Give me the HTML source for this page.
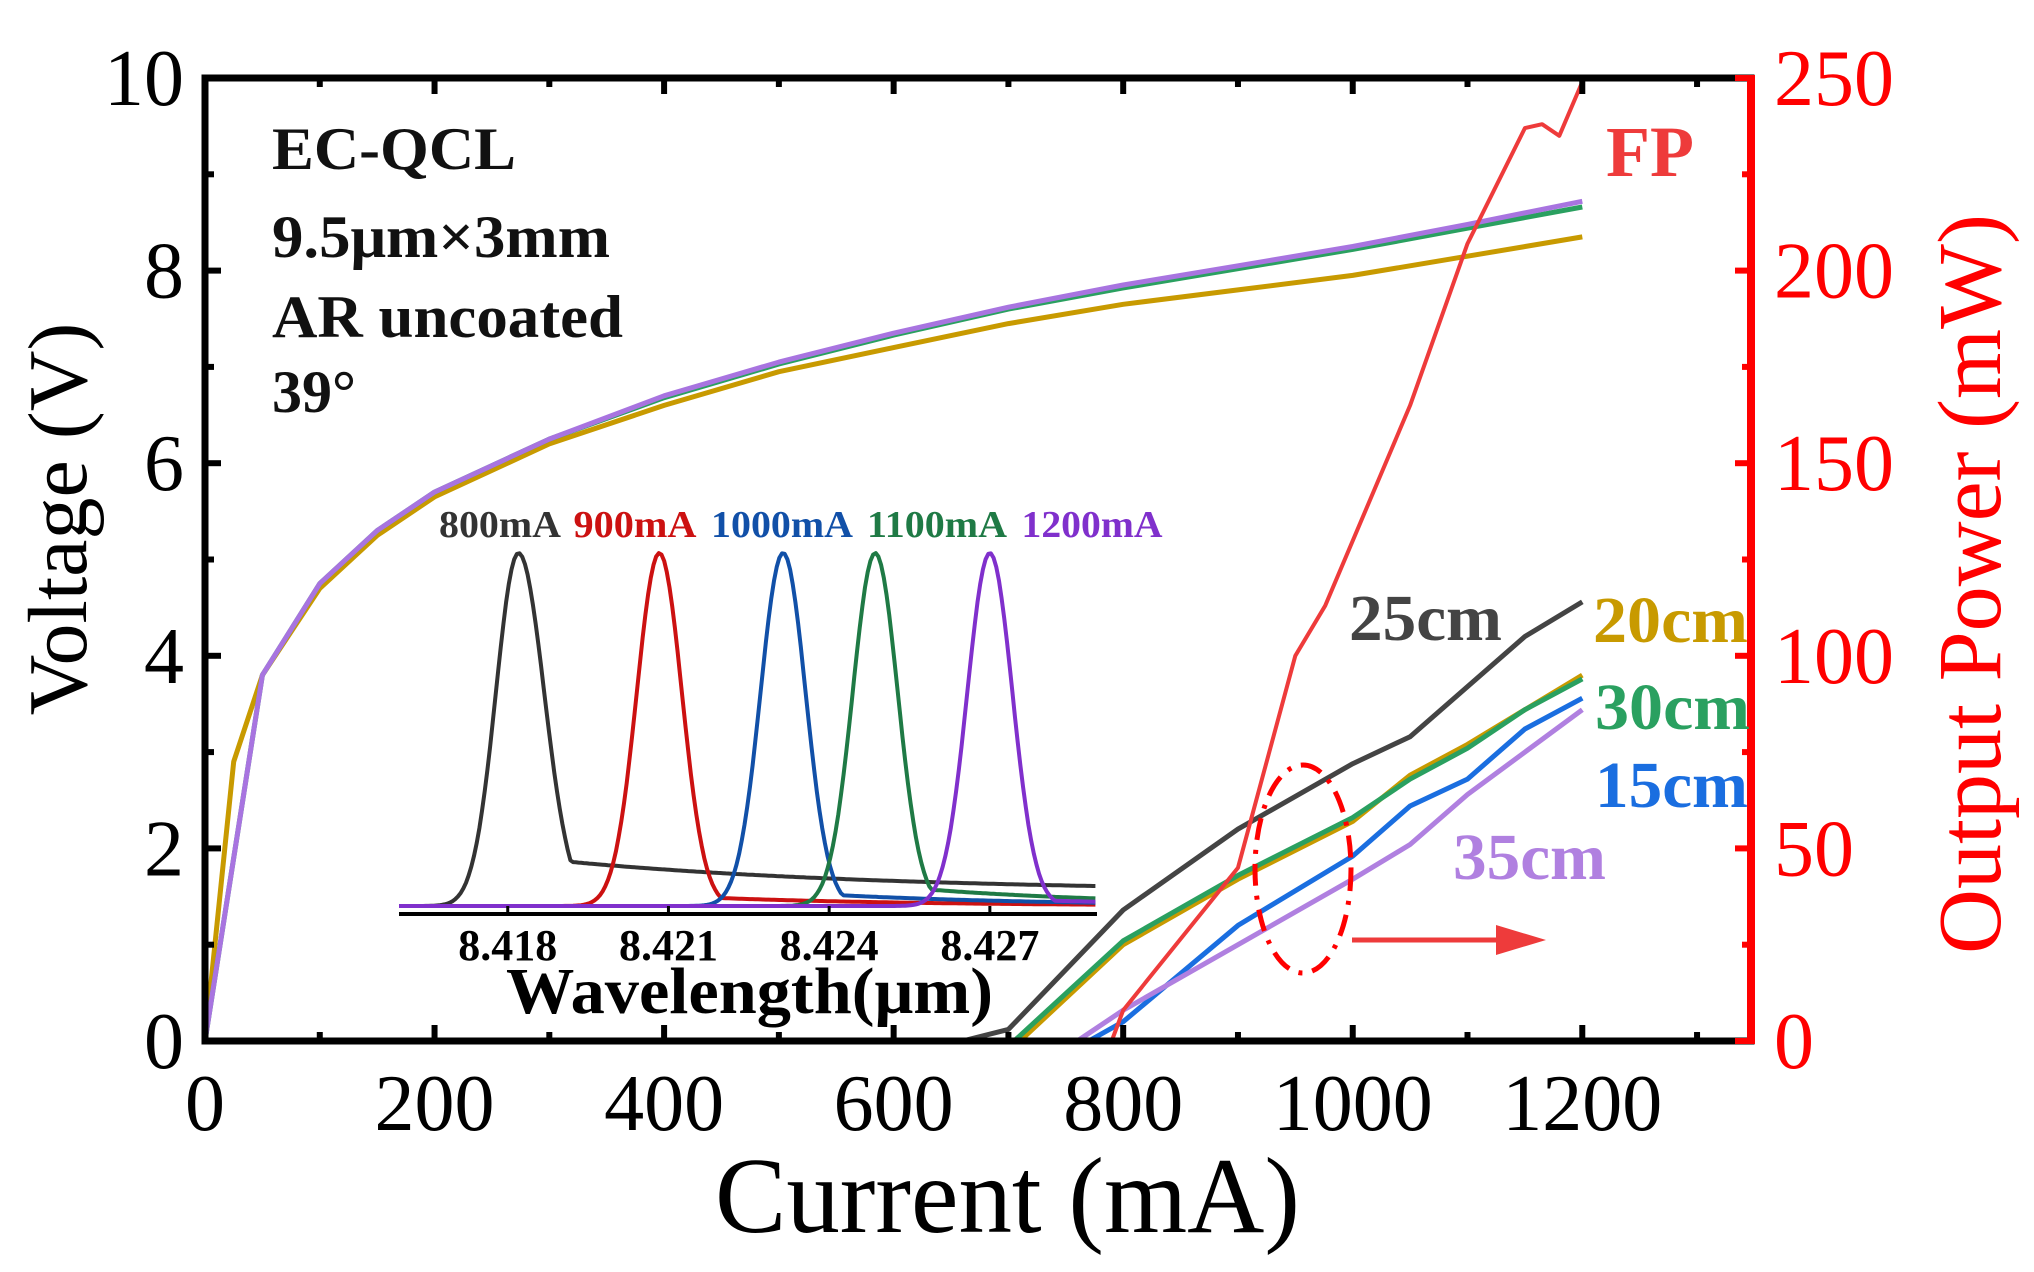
<!DOCTYPE html>
<html><head><meta charset="utf-8"><style>
body{margin:0;background:#fff;}
svg{display:block;font-family:"Liberation Serif",serif;}
</style></head><body>
<svg id="chart" width="2034" height="1272" viewBox="0 0 2034 1272">
<g id="marks"></g>
</svg>
<script>
// ---- main chart data ----
const vCurrent = [0,25,50,100,150,200,300,400,500,600,700,800,900,1000,1100,1200];
const vYellow  = [0,2.9,3.8,4.7,5.25,5.65,6.2,6.6,6.95,7.2,7.45,7.65,7.8,7.95,8.15,8.35];
const vPurple  = [0,1.9,3.8,4.75,5.3,5.7,6.25,6.7,7.05,7.35,7.62,7.85,8.05,8.25,8.48,8.72];
const vGreen   = [0,1.9,3.8,4.75,5.3,5.7,6.25,6.68,7.03,7.33,7.6,7.82,8.02,8.22,8.44,8.66];
const p25x=[660,700,800,900,1000,1050,1100,1150,1200]; const p25=[0,3,34,55,72,79,92,105,114];
const p20x=[710,800,900,1000,1050,1100,1150,1200];      const p20=[0,25,42,57,69,77,86,95];
const p30x=[705,800,900,1000,1050,1100,1150,1200];      const p30=[0,26,43,58,68,76,86,94];
const p15x=[770,800,900,1000,1050,1100,1150,1200];      const p15=[0,5,30,48,61,68,81,89];
const p35x=[760,800,900,1000,1050,1100,1150,1200];      const p35=[0,8,25,42,51,64,75,86];
const fpx=[0,790,800,900,950,976,1050,1100,1150,1165,1180,1200]; const fp=[0,0,8,45,100,113,165,207,237,238,235,249];
const xTicks=[0,200,400,600,800,1000,1200];
const yTicks=[0,2,4,6,8,10];
const y2Ticks=[0,50,100,150,200,250];
// ---- inset data ----
const peakCenters=[8.4182,8.42083,8.42314,8.42486,8.427];
const peakLabels=["800mA","900mA","1000mA","1100mA","1200mA"];
const peakBase=[0.10,0.03,0.04,0.06,0.02];
const insetTicks=[8.418,8.421,8.424,8.427];
const labelCenters=[500,635,782,937,1092];
const labelWidths=[122,123,142,140,141];

const L=205,R=1751,T=78,B=1041,XMAX=1347;
const X=v=>L+(v/XMAX)*(R-L);
const Y=v=>B-(v/10)*(B-T);
const Y2=v=>B-(v/250)*(B-T);
const IL=399,IR=1097,IB=914,ITOP=553,WMIN=8.41597,WMAX=8.429;
const IX=w=>IL+(w-WMIN)/(WMAX-WMIN)*(IR-IL);
const IY=f=>IB-8-f*(IB-8-ITOP);

const NS="http://www.w3.org/2000/svg";
const g=document.getElementById('marks');
function el(tag,attrs,parent){const e=document.createElementNS(NS,tag);for(const k in attrs)e.setAttribute(k,attrs[k]);(parent||g).appendChild(e);return e;}
function txt(s,attrs){const e=el('text',attrs);e.textContent=s;return e;}
function poly(xs,ys,fx,fy,color,w,name){
  const pts=xs.map((x,i)=>fx(x).toFixed(1)+','+fy(ys[i]).toFixed(1)).join(' ');
  const p=el('polyline',{points:pts,fill:'none',stroke:color,'stroke-width':w,'stroke-linejoin':'round'});
  
  
  return p;
}

poly(vCurrent,vYellow,X,Y,'#c89a00',5,'voltage-curve-yellow');
poly(vCurrent,vGreen,X,Y,'#2aa060',5,'voltage-curve-green');
poly(vCurrent,vPurple,X,Y,'#a874e0',5,'voltage-curve-purple');
poly(p20x,p20,X,Y2,'#c89a00',5,'power-curve-20cm');
poly(p30x,p30,X,Y2,'#2aa060',5,'power-curve-30cm');
poly(p25x,p25,X,Y2,'#444444',5,'power-curve-25cm');
poly(p15x,p15,X,Y2,'#1a6ee0',5,'power-curve-15cm');
poly(p35x,p35,X,Y2,'#b080e0',5,'power-curve-35cm');
poly(fpx,fp,X,Y2,'#ee3b3b',4,'power-curve-fp');

const icol=['#333333','#cc1111','#1150a8','#1f7a45','#8030cc'];
peakCenters.forEach((c,k)=>{
  const xs=[],ys=[];
  for(let w=WMIN;w<=WMAX+1e-9;w+=0.00005){
    const d=w-c;
    const s=d>0&&k===0?0.00048:0.00042;
    let f=Math.exp(-d*d/(2*s*s));
    let base=peakBase[k]*(d>0?Math.exp(-d/0.004):0.0);
    if(k===0&&d>0) base=0.10*Math.exp(-d/0.006)+0.04*(d>0.0008?1:d/0.0008);
    xs.push(w);ys.push(Math.max(f,base));
  }
  poly(xs,ys,IX,IY,icol[k],4,'inset-peak-'+peakLabels[k]);
  const t=txt(peakLabels[k],{x:labelCenters[k]-labelWidths[k]/2,y:537,'font-size':38,'font-weight':'bold',fill:icol[k],textLength:labelWidths[k],lengthAdjust:'spacingAndGlyphs'});
  
  
});
el('line',{x1:IL,y1:IB,x2:IR,y2:IB,stroke:'#000','stroke-width':4});
insetTicks.forEach(w=>{
  el('line',{x1:IX(w),y1:IB,x2:IX(w),y2:IB-8,stroke:'#000','stroke-width':3});
  const t=txt(w.toFixed(3),{x:IX(w),y:960,'font-size':44,'font-weight':'bold','text-anchor':'middle'});
  
  
});
</script>
<svg width="2034" height="1272" style="position:absolute;left:0;top:0">
<g font-family="Liberation Serif, serif">
<rect x="205" y="78" width="1546" height="963" fill="none" stroke="#000" stroke-width="7"/>
<line x1="1751" y1="75" x2="1751" y2="1044" stroke="#ff0000" stroke-width="8"/>
<g id="ticks"></g>
<text x="715" y="1232" font-size="108" textLength="585" lengthAdjust="spacingAndGlyphs">Current (mA)</text>
<text transform="translate(86,519) rotate(-90)" font-size="84" text-anchor="middle">Voltage (V)</text>
<text transform="translate(2000,584) rotate(-90)" font-size="90" text-anchor="middle" fill="#ff0000">Output Power (mW)</text>
<g font-weight="bold" font-size="60" fill="#111">
<text x="272" y="169" textLength="244" lengthAdjust="spacingAndGlyphs">EC-QCL</text>
<text x="272" y="257" textLength="338" lengthAdjust="spacingAndGlyphs">9.5μm×3mm</text>
<text x="272" y="337" textLength="351" lengthAdjust="spacingAndGlyphs">AR uncoated</text>
<text x="272" y="412">39°</text>
</g>
<text x="1606" y="176" font-size="72" font-weight="bold" fill="#ee3b3b">FP</text>
<g font-size="66" font-weight="bold">
<text x="1349" y="640" fill="#444" textLength="153" lengthAdjust="spacingAndGlyphs">25cm</text>
<text x="1593" y="642" fill="#c89a00" textLength="155" lengthAdjust="spacingAndGlyphs">20cm</text>
<text x="1595" y="729" fill="#2aa060" textLength="155" lengthAdjust="spacingAndGlyphs">30cm</text>
<text x="1595" y="807" fill="#1a6ee0" textLength="153" lengthAdjust="spacingAndGlyphs">15cm</text>
<text x="1453" y="879" fill="#b080e0" textLength="153" lengthAdjust="spacingAndGlyphs">35cm</text>
</g>
<text x="506" y="1013" font-size="66" font-weight="bold" textLength="487" lengthAdjust="spacingAndGlyphs">Wavelength(μm)</text>
<ellipse cx="1303" cy="869" rx="48" ry="104" fill="none" stroke="#ff0000" stroke-width="5" stroke-dasharray="22,10,4,10"/>
<line x1="1352" y1="940" x2="1500" y2="940" stroke="#ee3b3b" stroke-width="5"/>
<polygon points="1496,925 1546,940 1496,955" fill="#ee3b3b"/>
</g>
</svg>
<script>
(function(){
const NS="http://www.w3.org/2000/svg";
const tg=document.getElementById('ticks');
function el(tag,a){const e=document.createElementNS(NS,tag);for(const k in a)e.setAttribute(k,a[k]);tg.appendChild(e);return e;}
for(let v=0;v<=1300;v+=100){
  const x=X(v),len=v%200===0?16:9;
  el('line',{x1:x,y1:B,x2:x,y2:B-len,stroke:'#000','stroke-width':6});
  el('line',{x1:x,y1:T,x2:x,y2:T+len,stroke:'#000','stroke-width':6});
}
xTicks.forEach(v=>{const t=el('text',{x:X(v),y:1130,'font-size':80,'text-anchor':'middle'});t.textContent=v;
  
  });
for(let v=0;v<=10;v+=1){const y=Y(v),len=v%2===0?16:9;el('line',{x1:L,y1:y,x2:L+len,y2:y,stroke:'#000','stroke-width':6});}
yTicks.forEach(v=>{const t=el('text',{x:184,y:Y(v)+27,'font-size':80,'text-anchor':'end'});t.textContent=v;
  
  });
for(let v=0;v<=250;v+=25){const y=Y2(v),len=v%50===0?16:9;el('line',{x1:R,y1:y,x2:R-len,y2:y,stroke:'#ff0000','stroke-width':6});}
y2Ticks.forEach(v=>{const t=el('text',{x:1774,y:Y2(v)+27,'font-size':80,fill:'#ff0000'});t.textContent=v;
  
  });
})();
</script>
</body></html>
